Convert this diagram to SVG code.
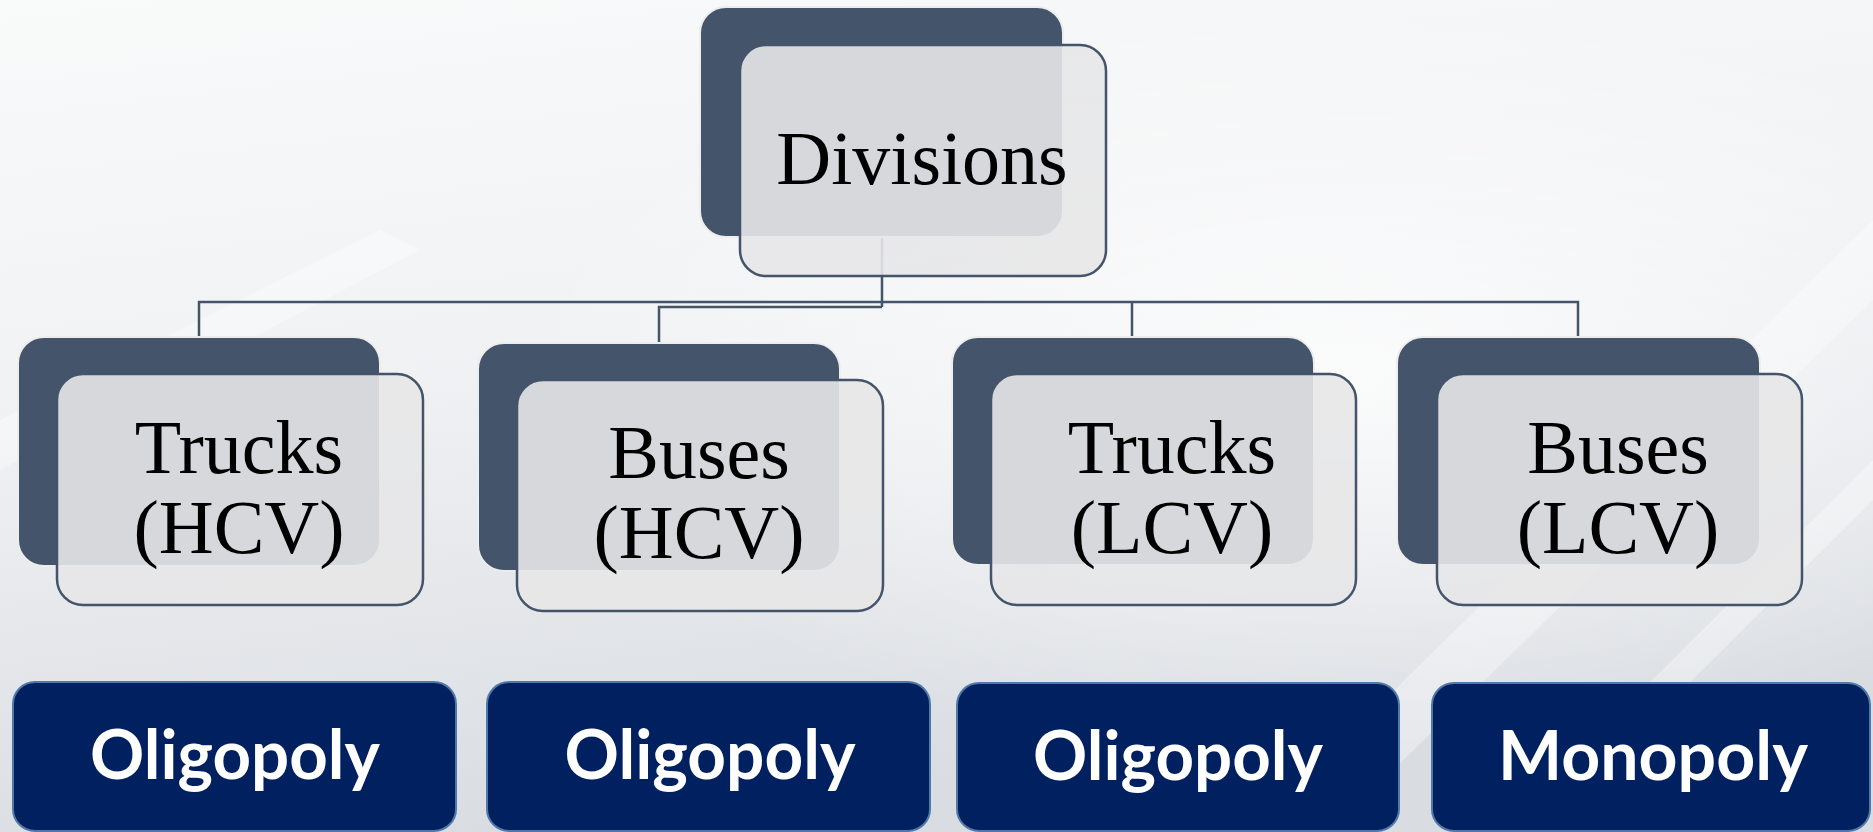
<svg xmlns="http://www.w3.org/2000/svg" width="1873" height="832" viewBox="0 0 1873 832">
<defs>
<linearGradient id="bg" x1="0" y1="0" x2="0.25" y2="1">
<stop offset="0" stop-color="#F9FAFA"/>
<stop offset="0.45" stop-color="#F1F2F4"/>
<stop offset="1" stop-color="#D9DDE2"/>
</linearGradient>
<radialGradient id="hl" cx="0.72" cy="0.45" r="0.45">
<stop offset="0" stop-color="#FFFFFF" stop-opacity="0.8"/>
<stop offset="1" stop-color="#FFFFFF" stop-opacity="0"/>
</radialGradient>
<style>
.back{fill:#44546A;stroke:#EDEDED;stroke-width:2}
.front{fill:#E7E7E8;fill-opacity:0.9;stroke:#44546A;stroke-width:2.5}
.lbl{font-family:"Liberation Serif","Times New Roman",serif;font-size:76px;fill:#000;text-anchor:middle}
.mk{fill:#00205F;stroke:#4F79A8;stroke-width:2}
.mt{font-family:Lato,"Open Sans",sans-serif;font-weight:700;font-size:68px;fill:#FFFFFF;text-anchor:middle}
.conn{fill:none;stroke:#44546A;stroke-width:2.5}
</style>
</defs>
<rect x="0" y="0" width="1873" height="832" fill="url(#bg)"/>
<rect x="0" y="0" width="1873" height="832" fill="url(#hl)"/>
<g opacity="0.35" fill="#FFFFFF">
<polygon points="1250,832 1330,832 1873,300 1873,220"/>
<polygon points="1500,832 1540,832 1873,500 1873,460"/>
<polygon points="0,420 0,470 420,250 380,230"/>
</g>
<g id="connectors">
<path class="conn" d="M882,237 V307"/>
<path class="conn" d="M882,302 H199 V336"/>
<path class="conn" d="M882,307 H659 V342"/>
<path class="conn" d="M882,302 H1578 V337"/>
<path class="conn" d="M1132,302 V337"/>
</g>
<g id="node-divisions">
<rect class="back" x="700" y="7" width="363" height="230" rx="26"/>
<rect class="front" x="740" y="45" width="366" height="231" rx="26"/>
<text class="lbl" x="922" y="184">Divisions</text>
</g>
<g id="node-trucks-hcv">
<rect class="back" x="18" y="337" width="362" height="229" rx="26"/>
<rect class="front" x="57" y="374" width="366" height="231" rx="26"/>
<text class="lbl" x="239" y="473">Trucks</text>
<text class="lbl" x="239" y="553">(HCV)</text>
</g>
<g id="node-buses-hcv">
<rect class="back" x="478" y="343" width="362" height="228" rx="26"/>
<rect class="front" x="517" y="380" width="366" height="231" rx="26"/>
<text class="lbl" x="699" y="478">Buses</text>
<text class="lbl" x="699" y="558">(HCV)</text>
</g>
<g id="node-trucks-lcv">
<rect class="back" x="952" y="337" width="362" height="228" rx="26"/>
<rect class="front" x="991" y="374" width="365" height="231" rx="26"/>
<text class="lbl" x="1172" y="473">Trucks</text>
<text class="lbl" x="1172" y="553">(LCV)</text>
</g>
<g id="node-buses-lcv">
<rect class="back" x="1397" y="337" width="363" height="228" rx="26"/>
<rect class="front" x="1437" y="374" width="365" height="231" rx="26"/>
<text class="lbl" x="1618" y="473">Buses</text>
<text class="lbl" x="1618" y="553">(LCV)</text>
</g>
<g id="market-1">
<rect class="mk" x="13" y="682" width="443" height="149" rx="22"/>
<text class="mt" x="235" y="779" textLength="290" lengthAdjust="spacingAndGlyphs">Oligopoly</text>
</g>
<g id="market-2">
<rect class="mk" x="487" y="682" width="443" height="149" rx="22"/>
<text class="mt" x="710" y="779" textLength="291" lengthAdjust="spacingAndGlyphs">Oligopoly</text>
</g>
<g id="market-3">
<rect class="mk" x="957" y="683" width="442" height="148" rx="22"/>
<text class="mt" x="1178" y="780" textLength="290" lengthAdjust="spacingAndGlyphs">Oligopoly</text>
</g>
<g id="market-4">
<rect class="mk" x="1432" y="683" width="438" height="148" rx="22"/>
<text class="mt" x="1653" y="780" textLength="310" lengthAdjust="spacingAndGlyphs">Monopoly</text>
</g>
</svg>
